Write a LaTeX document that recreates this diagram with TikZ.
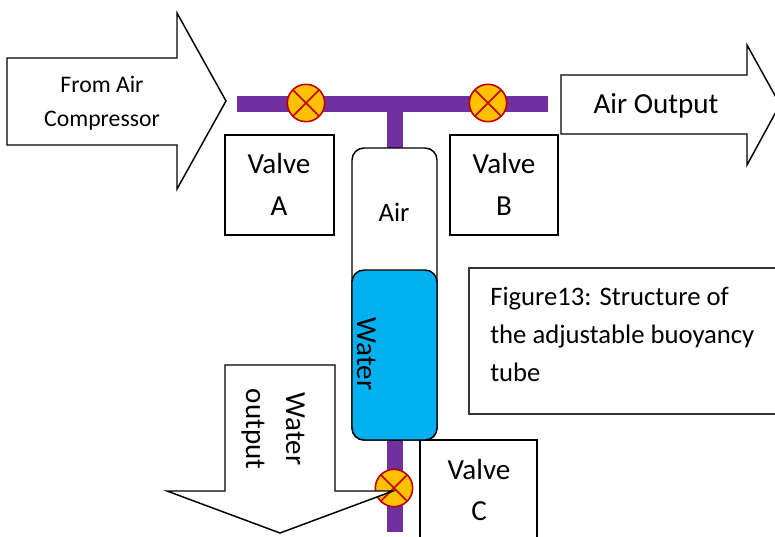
\documentclass[tikz,border=0pt]{standalone}
\usepackage{fontspec}
\setmainfont{Carlito}
\definecolor{pipe}{HTML}{7030A0}
\definecolor{waterc}{HTML}{00B0F0}
\definecolor{valvefill}{HTML}{FFC000}
\definecolor{valveline}{HTML}{C00000}
\tikzset{
  outl/.style={draw=black,line width=1.1pt,fill=white,line join=miter},
  pipeline/.style={draw=pipe,line width=12pt},
  tubeshape/.style={draw=black,line width=1.1pt,rounded corners=9pt},
  valvesym/.style={circle,draw=valveline,fill=valvefill,line width=1.2pt,minimum size=28pt,inner sep=0pt,path picture={
     \draw[valveline,line width=1.2pt] (path picture bounding box.north west)++(4.1pt,-4.1pt) -- ([shift={(-4.1pt,4.1pt)}]path picture bounding box.south east);
     \draw[valveline,line width=1.2pt] (path picture bounding box.north east)++(-4.1pt,-4.1pt) -- ([shift={(4.1pt,4.1pt)}]path picture bounding box.south west);}},
  lab/.style={inner sep=0pt,anchor=base,align=center},
  labl/.style={inner sep=0pt,anchor=base west},
}
\newcommand{\fsz}[1]{\fontsize{#1}{#1}\selectfont}
\begin{document}
\begin{tikzpicture}[x=0.75pt,y=-0.75pt]
\useasboundingbox (0,0) rectangle (775,536);
\clip (0,0) rectangle (775,536);
% labelled boxes
\draw[outl] (225,135) rectangle (334,235);
\draw[outl] (450,135) rectangle (558,235);
\draw[outl,draw=black!80,line width=0.9pt] (469,268) rectangle (780,414);
\draw[outl] (420,440) rectangle (537,545);
% pipes
\coordinate (p1) at (237,104);
\coordinate (p2) at (548,104);
\coordinate (p3) at (395,104);
\coordinate (p4) at (395,150);
\coordinate (p5) at (395,438);
\coordinate (p6) at (395,532);
\draw[pipeline] (p1) -- (p2);
\draw[pipeline] (p3) -- (p4);
\draw[pipeline] (p5) -- (p6);
% tube
\draw[tubeshape,fill=white] (352,148) rectangle (437,440);
\draw[tubeshape,fill=waterc] (352,270) rectangle (437,440);
% valves
\node[valvesym] (va) at (306,103) {};
\node[valvesym] (vb) at (488,103) {};
\node[valvesym] (vc) at (394,488) {};
% arrows
\draw[outl] (7,58) -- (177,58) -- (177,13) -- (226,101) -- (177,189) -- (177,145) -- (7,145) -- cycle;
\draw[outl] (561,75) -- (747,75) -- (747,45) -- (780,104.5) -- (747,165) -- (747,134) -- (561,134) -- cycle;
\draw[outl] (225,365) -- (335,365) -- (335,491) -- (393,491) -- (280,533) -- (167,491) -- (225,491) -- cycle;
% text
\node[lab] (t1) at (102,92) {\fsz{17.8}From Air};
\node[lab] (t2) at (102,126) {\fsz{17.8}Compressor};
\node[lab] (t3) at (279,173) {\fsz{21.8}Valve};
\node[lab] (t4) at (279,215) {\fsz{21.8}A};
\node[lab] (t5) at (504,173) {\fsz{21.8}Valve};
\node[lab] (t6) at (504,215) {\fsz{21.8}B};
\node[lab] (t7) at (656,113) {\fsz{21.8}Air Output};
\node[lab] (t8) at (394,221) {\fsz{20}Air};
\node[lab,rotate=-90] (t9) at (357,354) {\fsz{21.8}Water};
\node[lab,rotate=-90] (t10) at (286,429) {\fsz{21.8}Water};
\node[lab,rotate=-90] (t11) at (246,429) {\fsz{21.8}output};
\node[lab] (t12) at (479,479) {\fsz{21.8}Valve};
\node[lab] (t13) at (479,520) {\fsz{21.8}C};
\node[labl] (t14) at (490,305) {\fsz{20}Figure13: Structure of};
\node[labl] (t15) at (490,343) {\fsz{20}the adjustable buoyancy};
\node[labl] (t16) at (490,381) {\fsz{20}tube};
\end{tikzpicture}
\end{document}
